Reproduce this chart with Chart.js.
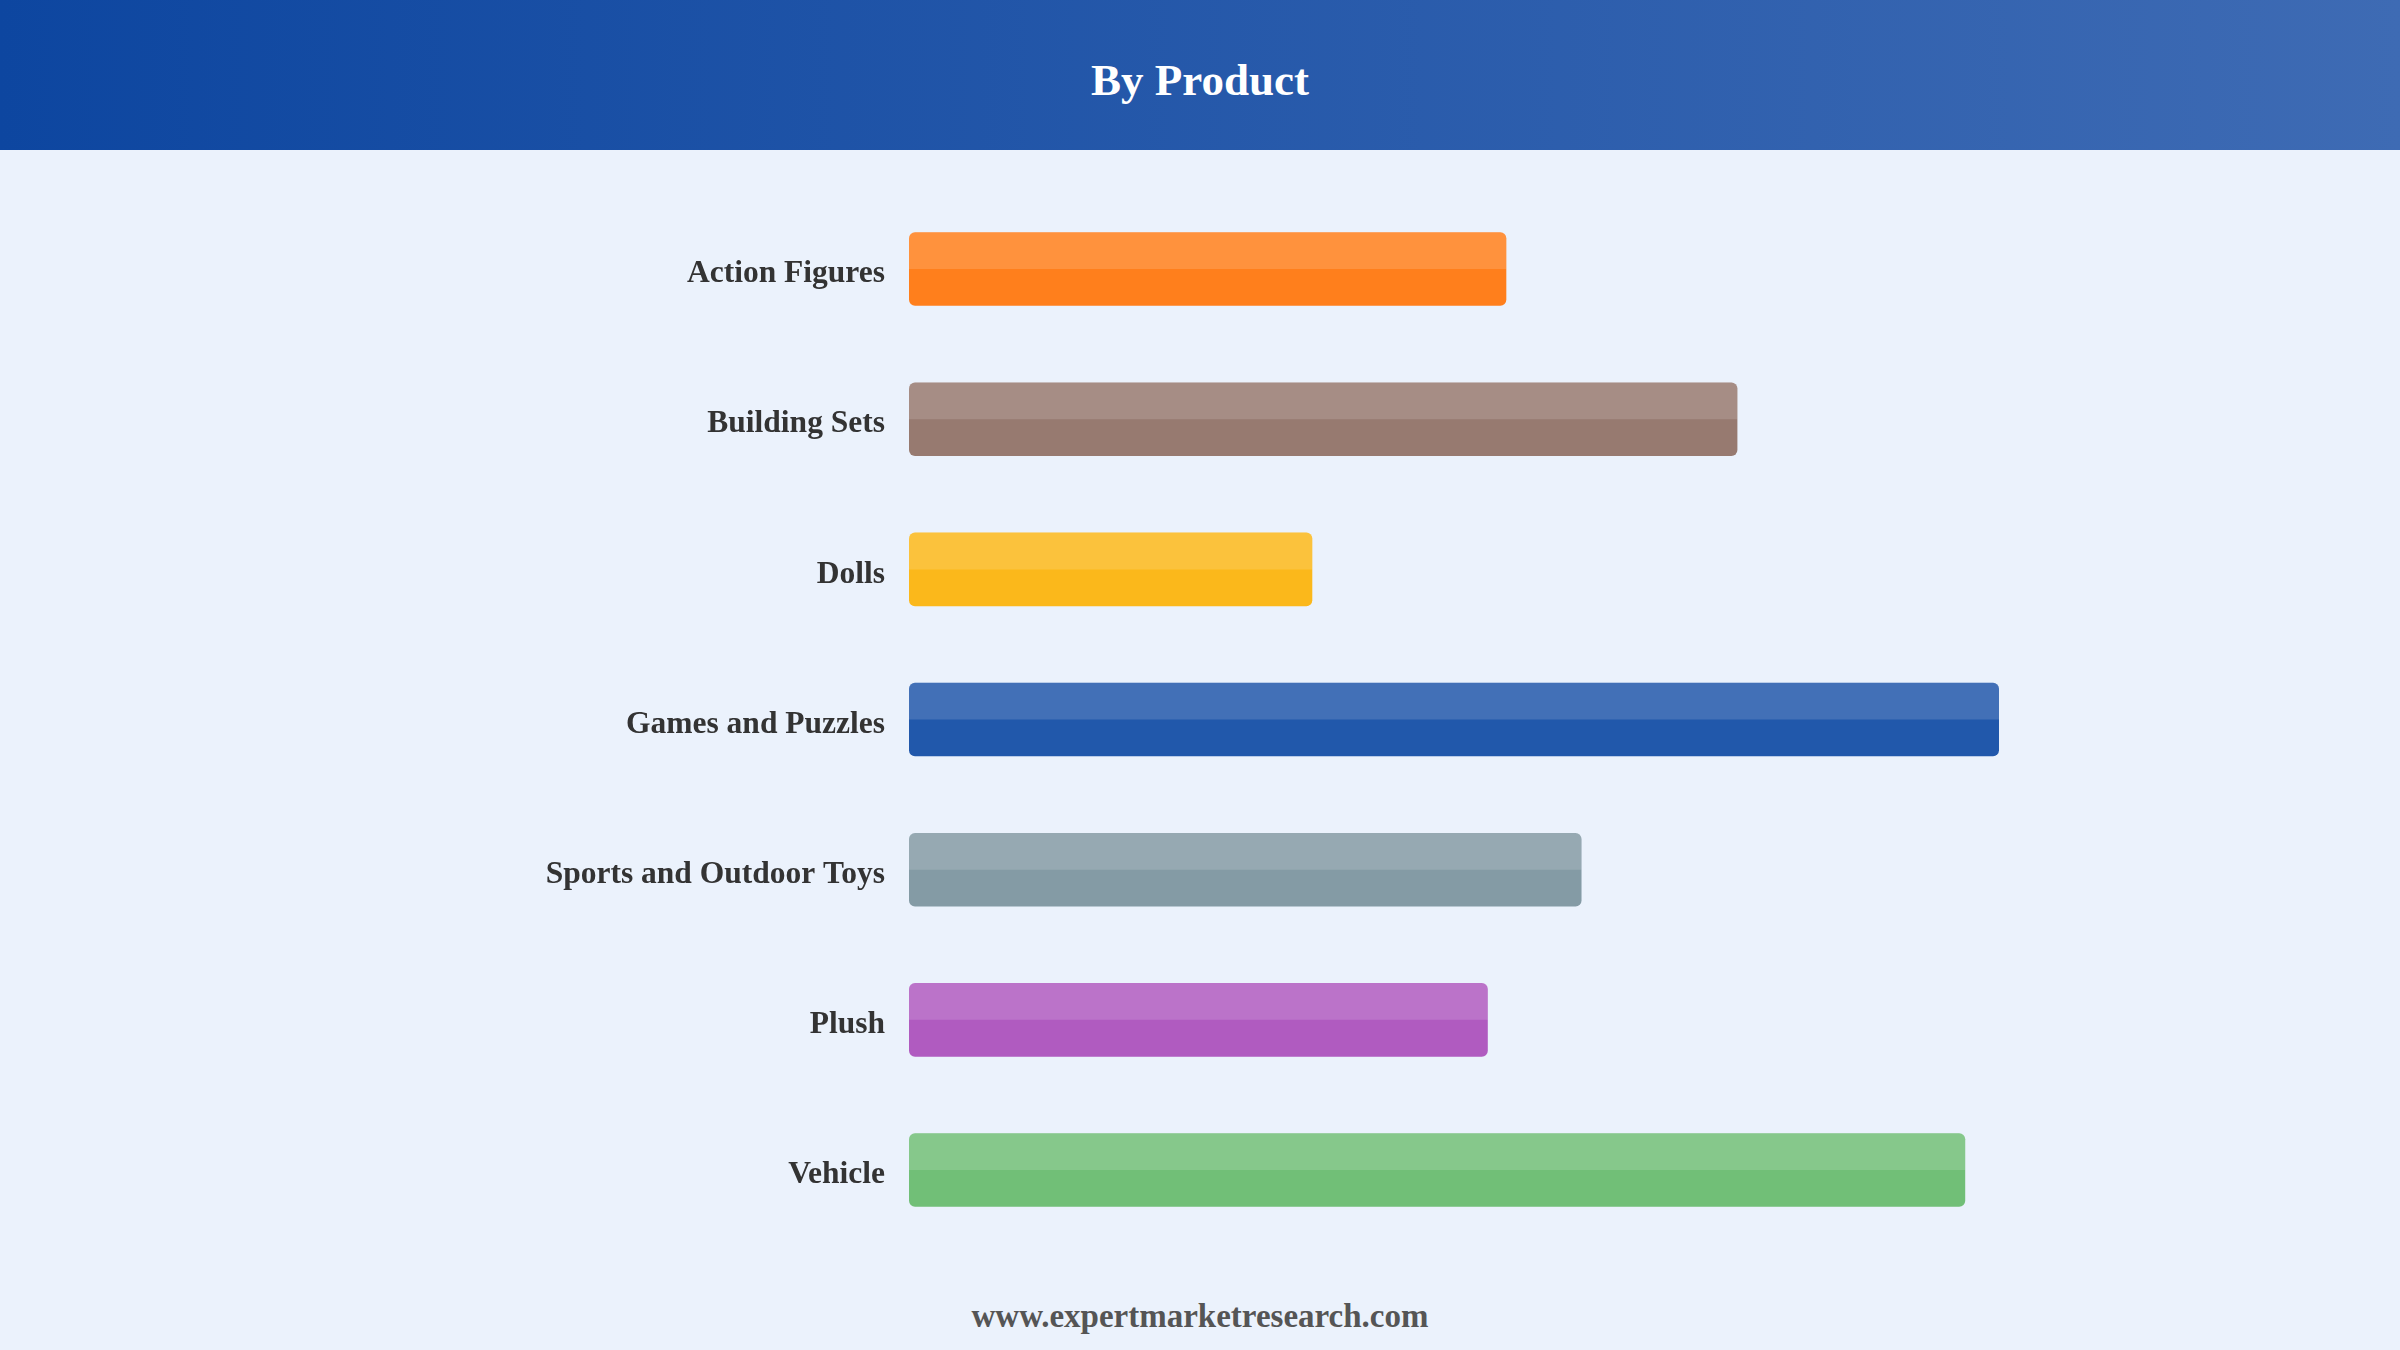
<!DOCTYPE html>
<html>
<head>
<meta charset="utf-8">
<script src="https://cdn.jsdelivr.net/npm/chart.js@4/dist/chart.umd.min.js"></script>
<style>
  html, body { margin: 0; padding: 0; }
  body { width: 2400px; height: 1350px; background: #ebf2fc; position: relative; overflow: hidden; font-family: "Liberation Serif", "DejaVu Serif", serif; }
  .header { position: absolute; left: 0; top: 0; width: 2400px; height: 150px;
    background: linear-gradient(to right, #0d46a0, #3e6bb4); color: #fff;
    display: flex; align-items: center; justify-content: center; }
  .header h1 { margin: 0; font-size: 45px; font-weight: bold; padding-top: 10px; }
  .chart-box { position: absolute; left: 0; top: 150px; width: 2400px; height: 1138px; }
  .footer { position: absolute; left: 0; width: 2400px; top: 1298px; text-align: center;
    font-size: 33px; font-weight: bold; color: #555; }
</style>
</head>
<body>
<div class="header"><h1>By Product</h1></div>
<div class="chart-box"><canvas id="productChart" width="2400" height="1138"></canvas></div>
<div class="footer">www.expertmarketresearch.com</div>
<script>
// данные графика
const categories = ["Action Figures", "Building Sets", "Dolls", "Games and Puzzles", "Sports and Outdoor Toys", "Plush", "Vehicle"];
const values = [5.48, 7.60, 3.70, 10.0, 6.17, 5.31, 9.69];
const barColors = ["#ff7f1c", "#977a70", "#fbb81b", "#2158ab", "#849ba5", "#b05bc0", "#71bf77"];

// светлая верхняя половина каждого столбца
const glossPlugin = {
    id: 'gloss',
    afterDatasetsDraw(chart) {
        const ctx = chart.ctx;
        chart.getDatasetMeta(0).data.forEach(bar => {
            const left = bar.base;
            const right = bar.x;
            const top = bar.y - bar.height / 2;
            const h = bar.height / 2;
            const r = 6;
            ctx.save();
            ctx.fillStyle = 'rgba(255,255,255,0.15)';
            ctx.beginPath();
            ctx.moveTo(left, top + h);
            ctx.lineTo(left, top + r);
            ctx.quadraticCurveTo(left, top, left + r, top);
            ctx.lineTo(right - r, top);
            ctx.quadraticCurveTo(right, top, right, top + r);
            ctx.lineTo(right, top + h);
            ctx.closePath();
            ctx.fill();
            ctx.restore();
        });
    }
};

new Chart(document.getElementById('productChart').getContext('2d'), {
    type: 'bar',
    data: {
        labels: categories,
        datasets: [{
            data: values,
            backgroundColor: barColors,
            borderRadius: 6,
            borderSkipped: false,
            categoryPercentage: 1,
            barPercentage: 0.49
        }]
    },
    options: {
        indexAxis: 'y',
        responsive: false,
        animation: false,
        layout: { padding: { top: 44, bottom: 16, left: 0, right: 401 } },
        scales: {
            x: {
                display: false,
                min: 0,
                max: 10
            },
            y: {
                grid: { display: false, drawTicks: false },
                border: { display: false },
                ticks: {
                    color: '#333',
                    padding: 24,
                    labelOffset: 5,
                    font: { family: 'Liberation Serif', size: 31.5, weight: 'bold' }
                },
                afterFit(scale) { scale.width = 909; }
            }
        },
        plugins: {
            legend: { display: false },
            tooltip: { enabled: false }
        }
    },
    plugins: [glossPlugin]
});
</script>
</body>
</html>
